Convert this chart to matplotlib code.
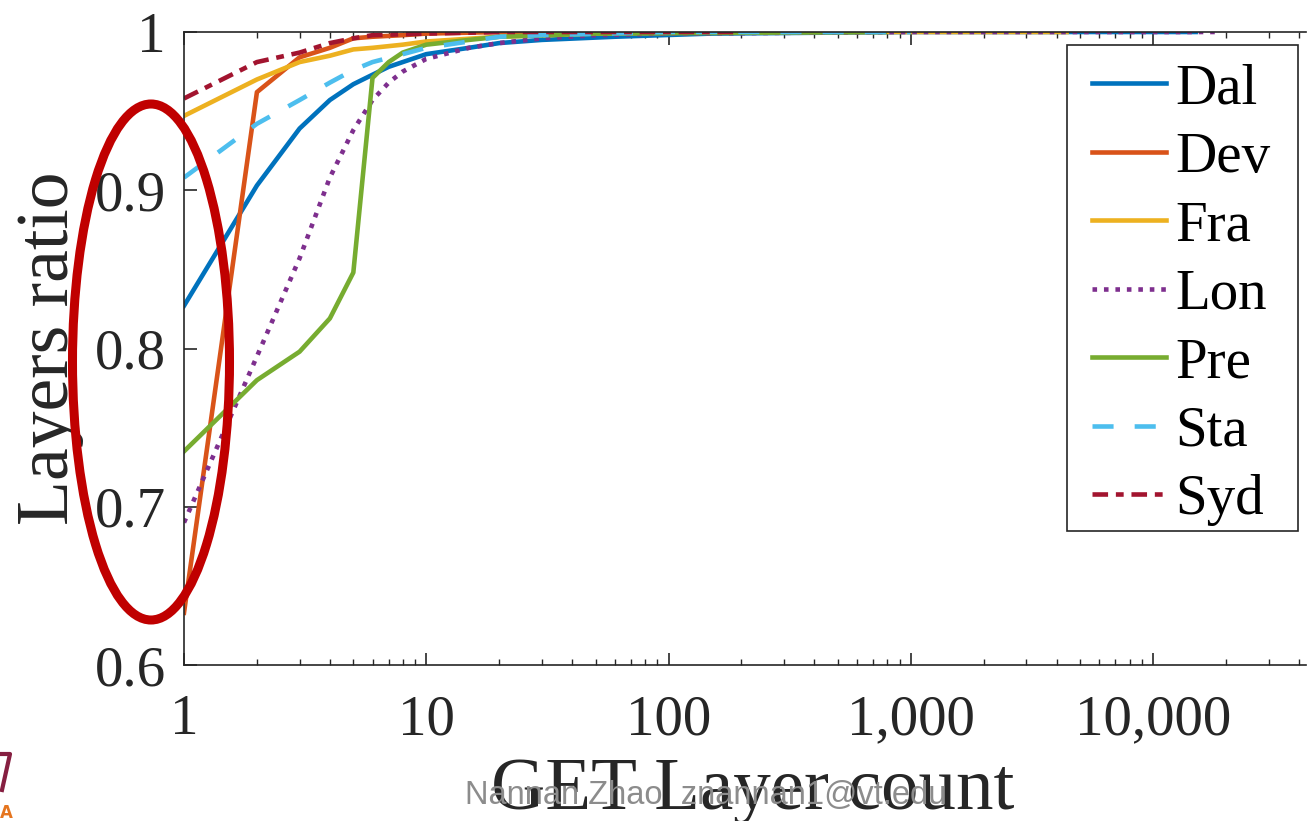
import matplotlib
matplotlib.use('Agg')
import matplotlib.pyplot as plt
from matplotlib.patches import Ellipse, Rectangle
from matplotlib.ticker import FixedLocator, LogLocator, NullFormatter

# data
names = ['Dal', 'Dev', 'Fra', 'Lon', 'Pre', 'Sta', 'Syd']

dal_x = [1, 2, 3, 4, 5, 6, 7, 8, 10, 15, 20, 30, 60, 150, 1000, 15000]
dal_y = [0.827, 0.903, 0.939, 0.957, 0.967, 0.973, 0.978, 0.981, 0.986, 0.990, 0.993, 0.995, 0.997, 0.999, 1.0, 1.0]
dev_x = [1, 2, 3, 4, 5, 6, 8, 10, 20, 50, 200]
dev_y = [0.633, 0.962, 0.984, 0.990, 0.996, 0.997, 0.998, 0.999, 1.0, 1.0, 1.0]
fra_x = [1, 2, 3, 4, 5, 6, 8, 10, 20, 50, 200, 4400]
fra_y = [0.947, 0.970, 0.981, 0.985, 0.989, 0.990, 0.992, 0.994, 0.997, 0.999, 1.0, 1.0]
lon_x = [1, 2, 3, 4, 5, 6, 7, 8, 10, 15, 20, 30, 50, 100, 1000, 19000]
lon_y = [0.690, 0.795, 0.857, 0.908, 0.938, 0.957, 0.968, 0.975, 0.983, 0.990, 0.993, 0.996, 0.998, 0.999, 1.0, 1.0]
pre_x = [1, 2, 3, 4, 5, 6, 7, 8, 10, 15, 20, 50, 780]
pre_y = [0.735, 0.780, 0.798, 0.819, 0.848, 0.971, 0.981, 0.987, 0.992, 0.995, 0.997, 0.999, 1.0]
sta_x = [1, 2, 3, 4, 5, 6, 8, 10, 15, 20, 30, 100, 1000]
sta_y = [0.908, 0.942, 0.957, 0.968, 0.976, 0.981, 0.986, 0.990, 0.994, 0.997, 0.998, 1.0, 1.0]
syd_x = [1, 2, 3, 4, 5, 6, 10, 20, 190]
syd_y = [0.958, 0.981, 0.987, 0.993, 0.996, 0.998, 0.999, 1.0, 1.0]

xticks = [1, 10, 100, 1000, 10000]
xticklabels = ['1', '10', '100', '1,000', '10,000']
yticks = [0.6, 0.7, 0.8, 0.9, 1.0]
yticklabels = ['0.6', '0.7', '0.8', '0.9', '1']

plt.rcParams['font.family'] = ['Liberation Serif', 'DejaVu Serif']

W, H = 1307, 821
fig = plt.figure(figsize=(W / 100, H / 100), dpi=100)
ax = fig.add_axes([184 / W, 1 - 665 / H, 1122 / W, 633 / H])

lw = 3.3
ax.plot(dal_x, dal_y, color='#0072BD', lw=lw, label='Dal')
ax.plot(dev_x, dev_y, color='#D95319', lw=lw, label='Dev')
ax.plot(fra_x, fra_y, color='#EDB120', lw=lw, label='Fra')
ax.plot(lon_x, lon_y, color='#7E2F8E', lw=lw, dashes=(1, 1.5), label='Lon')
ax.plot(pre_x, pre_y, color='#77AC30', lw=lw, label='Pre')
ax.plot(sta_x, sta_y, color='#4DBEEE', lw=lw, dashes=(4.6, 4.6), label='Sta')
ax.plot(syd_x, syd_y, color='#A2142F', lw=lw, dashes=(3.4, 1.7, 1.7, 1.7), label='Syd')

ax.set_xscale('log')
ax.set_xlim(1, 10 ** ((1306 - 184) / 242.25))
ax.set_ylim(0.6, 1.0)

ax.xaxis.set_major_locator(FixedLocator(xticks))
ax.set_xticklabels(xticklabels)
ax.xaxis.set_minor_locator(LogLocator(base=10, subs=range(2, 10), numticks=20))
ax.xaxis.set_minor_formatter(NullFormatter())
ax.set_yticks(yticks)
ax.set_yticklabels(yticklabels)

tc = '#262626'
ax.tick_params(axis='both', which='major', direction='in', length=9, width=1.2,
               colors=tc, labelsize=41, top=True, right=False)
ax.tick_params(axis='x', which='major', pad=21)
ax.tick_params(axis='y', which='major', pad=13)
ax.tick_params(axis='x', which='minor', direction='in', length=4.5, width=1.0,
               colors=tc, top=True)
for s in ['left', 'bottom', 'top']:
    ax.spines[s].set_color(tc)
    ax.spines[s].set_linewidth(1.2)
ax.spines['right'].set_visible(False)

ax.set_xlabel('GET Layer count', fontsize=54, color=tc)
ax.xaxis.set_label_coords((753 - 184) / 1122, (665 - 757) / 633)
ax.set_ylabel('Layers ratio', fontsize=53, color=tc)
ax.yaxis.set_label_coords((84 - 184) / 1122, 0.5)

# legend without its own frame; frame drawn as a box to match the reference
leg = ax.legend(loc='upper left', bbox_to_anchor=(1092 / W, 1 - 63 / H),
                bbox_transform=fig.transFigure, fontsize=41, handlelength=1.3,
                handletextpad=0.16, labelspacing=0.29, borderpad=0,
                borderaxespad=0, frameon=False)
fig.add_artist(Rectangle((1067 / W, 1 - 531 / H), 231 / W, 486 / H,
                         transform=fig.transFigure, fill=False, edgecolor=tc,
                         lw=1.2, zorder=4))

# red annotation ellipse
ell = Ellipse((151 / W, 1 - 362 / H), 157 / W, 516 / H,
              transform=fig.transFigure, fill=False, edgecolor='#C00000',
              lw=6.5, clip_on=False, zorder=10)
fig.add_artist(ell)

# watermark
fig.text(706 / W, 1 - 804 / H, 'Nannan Zhao  znannan1@vt.edu',
         family=['Liberation Sans', 'DejaVu Sans'], fontsize=23.5,
         color='#8c8c8c', ha='center', va='baseline', zorder=11)

# partial logo at bottom-left
fig.add_artist(plt.Line2D([0.0, 10 / W, 2 / W], [1 - 754 / H, 1 - 754 / H, 1 - 790 / H],
                          transform=fig.transFigure, color='#861F41', lw=3))
fig.text(0.0, 1 - 813 / H, 'A', color='#E5751F', fontsize=12, family='DejaVu Sans',
         weight='bold', ha='left', va='center')

fig.savefig('out.png', dpi=100)
